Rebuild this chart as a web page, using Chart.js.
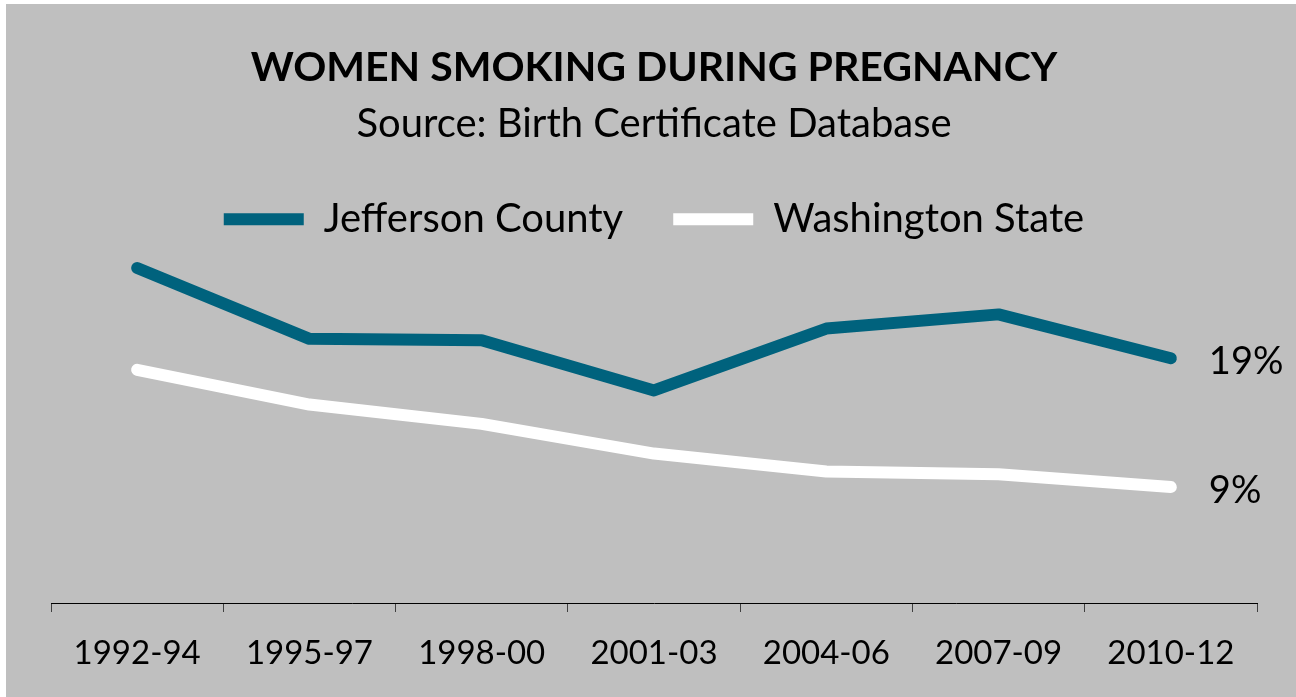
<!DOCTYPE html>
<html>
<head>
<meta charset="utf-8">
<script src="https://cdn.jsdelivr.net/npm/chart.js@4"></script>
<style>
  html, body { margin: 0; padding: 0; background: #ffffff; }
  #wrap { position: absolute; left: 6px; top: 4px; width: 1290px; height: 693px; background: #bfbfbf; }
</style>
</head>
<body>
<div id="wrap"><canvas id="chart"></canvas></div>
<script>
// data (percent)
const periods = ['1992-94', '1995-97', '1998-00', '2001-03', '2004-06', '2007-09', '2010-12']
const jefferson = [26.0, 20.5, 20.4, 16.5, 21.3, 22.4, 19.0]
const washington = [18.1, 15.4, 13.9, 11.6, 10.2, 10.0, 9.0]
const seriesNames = ['Jefferson County', 'Washington State']

const fontFamily = 'Lato'

// writes the last value next to the end of each line
const endLabels = {
    id: 'endLabels',
    afterDatasetsDraw(chart) {
        const ctx = chart.ctx
        ctx.save()
        ctx.font = '38px ' + fontFamily
        ctx.fillStyle = '#000000'
        ctx.textBaseline = 'middle'
        chart.data.datasets.forEach(function(ds, i) {
            const pts = chart.getDatasetMeta(i).data
            const last = pts[pts.length - 1]
            ctx.fillText(Math.round(ds.data[ds.data.length - 1]) + '%', last.x + 38, last.y + 4)
        })
        ctx.restore()
    }
}

new Chart(document.getElementById('chart'), {
    type: 'line',
    data: {
        labels: periods,
        datasets: [
            {
                label: seriesNames[0],
                data: jefferson,
                borderColor: '#00627d',
                backgroundColor: '#00627d',
                borderWidth: 12,
                borderCapStyle: 'round',
                borderJoinStyle: 'round',
                pointRadius: 0,
                tension: 0
            },
            {
                label: seriesNames[1],
                data: washington,
                borderColor: '#ffffff',
                backgroundColor: '#ffffff',
                borderWidth: 12,
                borderCapStyle: 'round',
                borderJoinStyle: 'round',
                pointRadius: 0,
                tension: 0
            }
        ]
    },
    options: {
        responsive: true,
        maintainAspectRatio: false,
        animation: false,
        layout: { padding: { left: 45, right: 39, top: 39, bottom: 1.3 } },
        plugins: {
            title: {
                display: true,
                text: 'WOMEN SMOKING DURING PREGNANCY',
                color: '#000000',
                font: { family: fontFamily, size: 41, weight: 'bold' },
                padding: { top: 0, bottom: 8 }
            },
            subtitle: {
                display: true,
                text: 'Source: Birth Certificate Database',
                color: '#000000',
                font: { family: fontFamily, size: 40 },
                padding: { top: 0, bottom: 1 }
            },
            legend: {
                display: true,
                labels: {
                    usePointStyle: true,
                    pointStyle: 'line',
                    pointStyleWidth: 80,
                    color: '#000000',
                    font: { family: fontFamily, size: 40 },
                    padding: 50
                }
            },
            tooltip: { enabled: false }
        },
        scales: {
            x: {
                offset: true,
                grid: { offset: true, drawOnChartArea: false, drawTicks: true, tickLength: 9, color: '#404040' },
                border: { color: '#000000', width: 1 },
                ticks: { color: '#000000', font: { family: fontFamily, size: 33, lineHeight: 0.9 }, padding: 27, maxRotation: 0 }
            },
            y: {
                display: false,
                min: 0,
                max: 27.46
            }
        }
    },
    plugins: [endLabels]
})
</script>
</body>
</html>
